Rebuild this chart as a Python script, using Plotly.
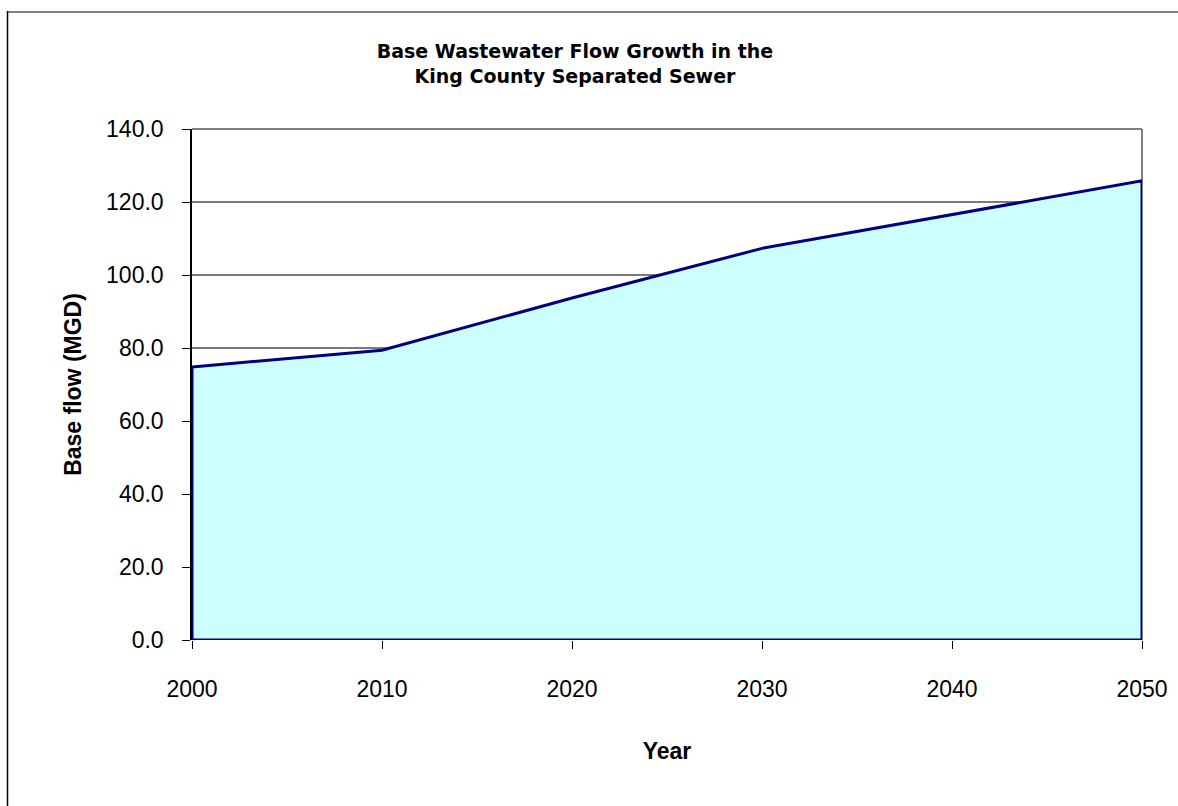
import plotly.graph_objects as go

years = [2000, 2010, 2020, 2030, 2040, 2050]
base_flow = [74.8, 79.4, 93.7, 107.3, 116.6, 125.8]
y_ticks = [0, 20, 40, 60, 80, 100, 120, 140]
y_tick_labels = [f"{v:.1f}" for v in y_ticks]

W, H = 1178, 806
L, R, T, B = 192, 36, 129, 166

# closed polygon: area under the series with the navy outline all round
poly_x = [years[0]] + years + [years[-1], years[0]]
poly_y = [0] + base_flow + [0, 0]

fig = go.Figure()
fig.add_trace(go.Scatter(
    x=poly_x, y=poly_y, mode="lines", fill="toself",
    fillcolor="#CCFFFF", line=dict(color="#000080", width=3),
    hoverinfo="skip", showlegend=False,
))

font_family = "Liberation Sans, Arial, sans-serif"
fig.update_layout(
    width=W, height=H,
    margin=dict(l=L, r=R, t=T, b=B, autoexpand=False),
    paper_bgcolor="white", plot_bgcolor="white",
    font=dict(family=font_family, color="black"),
    title=dict(
        text="<b>Base Wastewater Flow Growth in the<br>King County Separated Sewer</b>",
        x=575 / W, xref="container", xanchor="center",
        y=1 - 58 / H, yref="container", yanchor="top",
        font=dict(size=19, family="DejaVu Sans, Liberation Sans, sans-serif", color="black"),
    ),
    showlegend=False,
)
fig.update_xaxes(
    range=[years[0], years[-1]], tickvals=years, ticktext=[str(y) for y in years],
    showgrid=False, zeroline=False,
    showline=False, ticks="outside", ticklen=8, tickcolor="black",
    tickfont=dict(size=23), ticklabelstandoff=20,
    title=dict(text="<b>Year</b>", font=dict(size=23), standoff=42),
    mirror=False,
)
fig.update_yaxes(
    range=[0, 140], tickvals=y_ticks, ticktext=y_tick_labels,
    showgrid=True, gridcolor="#7a7a7a", gridwidth=1.5, zeroline=False,
    showline=True, linecolor="black", linewidth=1.5,
    ticks="outside", ticklen=8, tickcolor="black",
    tickfont=dict(size=23), ticklabelstandoff=14,
    title=dict(text="<b>Base flow (MGD)</b>", font=dict(size=23), standoff=18),
)
# plot area frame (top and right), gray
fig.add_shape(type="line", xref="paper", yref="paper", x0=0, x1=1, y0=1, y1=1,
              line=dict(color="#808080", width=2), layer="below")
fig.add_shape(type="line", xref="paper", yref="paper", x0=1, x1=1, y0=0, y1=1,
              line=dict(color="#808080", width=2), layer="below")
# chart-area border (only top and left edges fall inside the window)
px = lambda v: (v - L) / (W - L - R)
py = lambda v: 1 - (v - T) / (H - T - B)
fig.add_shape(type="line", xref="paper", yref="paper", x0=px(7), x1=px(W + 5), y0=py(12), y1=py(12),
              line=dict(color="#808080", width=2))
fig.add_shape(type="line", xref="paper", yref="paper", x0=px(7.5), x1=px(7.5), y0=py(11), y1=py(H + 5),
              line=dict(color="black", width=1.5))

fig.write_html("out.html")
